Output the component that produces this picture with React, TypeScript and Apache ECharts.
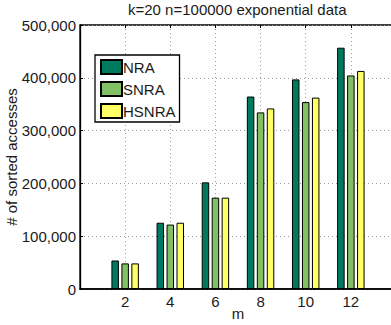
import React, { useEffect, useRef } from "react";
import * as echarts from "echarts";

const mValues = [2, 4, 6, 8, 10, 12];
const nraValues = [54000, 125500, 202000, 364500, 397000, 457000];
const snraValues = [48500, 122000, 173000, 334500, 354000, 404500];
const hsnraValues = [48500, 125500, 173000, 342000, 362500, 413000];
const seriesNames = ["NRA", "SNRA", "HSNRA"];
const seriesColors = ["#007a5e", "#82c064", "#ffff66"];

const FONT = "Liberation Sans";
const TXT = "#1a1a1a";

export default function App() {
  const ref = useRef<HTMLDivElement>(null);
  useEffect(() => {
    if (!ref.current) return;
    const chart = echarts.init(ref.current, undefined, { renderer: "svg" });
    const all = [nraValues, snraValues, hsnraValues];
    const series = all.map((vals, i) => ({
      name: seriesNames[i],
      type: "bar",
      xAxisIndex: 0,
      yAxisIndex: 0,
      barWidth: 7.5,
      barGap: "33%",
      data: mValues.map((m, j) => [m, vals[j]]),
      itemStyle: { color: seriesColors[i], borderColor: "#000", borderWidth: 1 },
    }));
    chart.setOption({
      animation: false,
      textStyle: { fontFamily: FONT },
      title: {
        text: "k=20 n=100000 exponential data",
        left: 128,
        top: 2,
        padding: 0,
        textStyle: { fontFamily: FONT, fontSize: 15, fontWeight: "normal", color: TXT },
      },
      grid: {
        left: 80,
        top: 25,
        width: 316,
        height: 264,
        show: true,
        borderColor: "#000",
        borderWidth: 1.3,
        backgroundColor: "#fff",
        containLabel: false,
        outerBoundsMode: "none",
      },
      legend: {
        left: 95,
        top: 55,
        orient: "vertical",
        backgroundColor: "#fff",
        borderColor: "#000",
        borderWidth: 1.3,
        borderRadius: 0,
        padding: [4, 4, 3, 5],
        itemWidth: 21,
        itemHeight: 14,
        itemGap: 6,
        icon: "rect",
        textStyle: {
          fontFamily: FONT,
          fontSize: 15,
          color: TXT,
          lineHeight: 14,
          padding: [0, 0, 0, -4],
        },
        data: seriesNames,
      },
      xAxis: [
        {
          type: "value",
          min: 0,
          max: 14,
          interval: 2,
          position: "bottom",
          name: "m",
          nameLocation: "middle",
          nameGap: 17,
          nameMoveOverlap: false,
          nameTextStyle: { fontFamily: FONT, fontSize: 15, color: TXT },
          axisLine: { show: true, lineStyle: { color: "#000", width: 1.5 } },
          axisTick: { show: true, inside: true, length: 3, lineStyle: { color: "#000" } },
          axisLabel: {
            fontFamily: FONT,
            fontSize: 15,
            color: TXT,
            margin: 5,
            showMinLabel: false,
            showMaxLabel: false,
          },
          splitLine: { show: true, lineStyle: { color: "#9a9a9a", type: [1, 3], width: 1 } },
        },
        {
          type: "value",
          min: 0,
          max: 14,
          interval: 2,
          position: "top",
          axisLine: { show: false },
          axisTick: { show: true, inside: true, length: 3, lineStyle: { color: "#000" } },
          axisLabel: { show: false },
          splitLine: { show: false },
        },
      ],
      yAxis: {
        type: "value",
        min: 0,
        max: 500000,
        interval: 100000,
        name: "# of sorted accesses",
        nameLocation: "middle",
        nameGap: 61,
        nameMoveOverlap: false,
        nameTextStyle: { fontFamily: FONT, fontSize: 15, color: TXT },
        axisLine: { show: true, lineStyle: { color: "#000", width: 1.3 } },
        axisTick: { show: true, inside: true, length: 3, lineStyle: { color: "#000" } },
        axisLabel: {
          fontFamily: FONT,
          fontSize: 15,
          color: TXT,
          margin: 4,
          formatter: (v: number) => v.toLocaleString("en-US"),
        },
        splitLine: { show: true, lineStyle: { color: "#9a9a9a", type: [1, 3], width: 1 } },
      },
      series,
    });
    return () => chart.dispose();
  }, []);
  return (
    <div
      ref={ref}
      style={{ position: "fixed", left: 0, top: 0, width: 391, height: 325, background: "#fff" }}
    />
  );
}
